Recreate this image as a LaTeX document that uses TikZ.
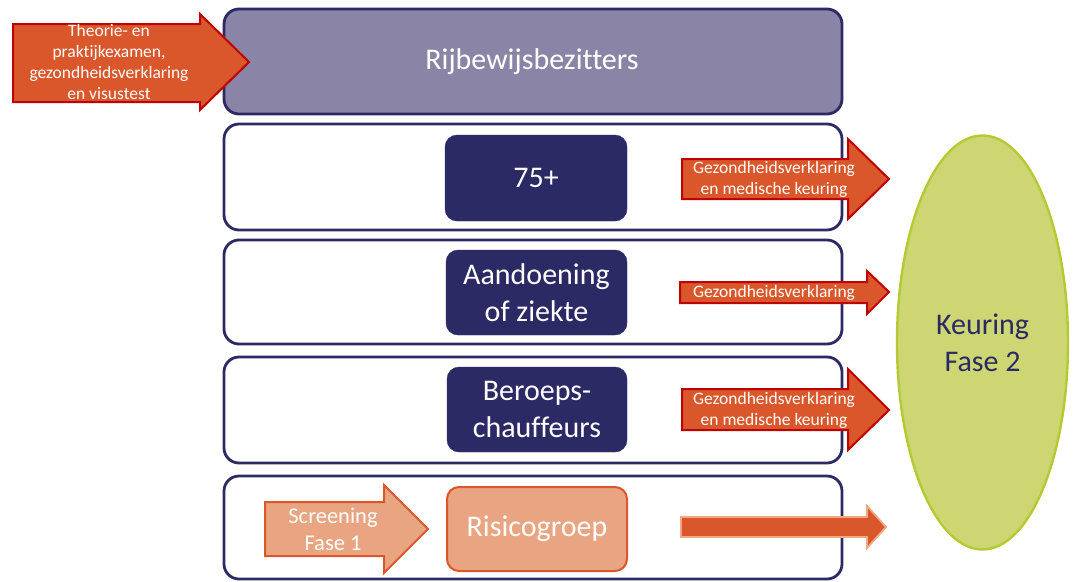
\documentclass[tikz,border=0pt]{standalone}
\usepackage{fontspec}
\setmainfont[Ligatures=NoCommon]{Carlito}
\usetikzlibrary{shapes.geometric}
\definecolor{navy}{HTML}{2B2A64}
\definecolor{topfill}{HTML}{8A85A6}
\definecolor{arrfill}{HTML}{D9572B}
\definecolor{arrline}{HTML}{C00000}
\definecolor{salmon}{HTML}{E9A581}
\definecolor{lightline}{HTML}{F2A883}
\definecolor{elfill}{HTML}{CDD672}
\definecolor{elline}{HTML}{B5C932}
\tikzset{
  rowbox/.style={draw=navy,line width=2.8pt,rounded corners=15pt,fill=white},
  innerbox/.style={fill=navy,draw=navy,rounded corners=12pt,text=white,font=\fontsize{30}{37}\selectfont,align=center},
  redarrow/.style={fill=arrfill,draw=arrline,line width=2pt,line join=miter},
  arrtext/.style={text=white,font=\fontsize{17.5}{21}\selectfont,align=center,inner sep=0pt},
}
\begin{document}
\begin{tikzpicture}[x=1pt,y=-1pt]
\useasboundingbox (0,0) rectangle (1076,581);
% top box
\draw[draw=navy,line width=2.8pt,rounded corners=15pt,fill=topfill] (224,9) rectangle (842,114);
\node[text=white,font=\fontsize{30}{36}\selectfont] (top) at (532,62) {Rijbewijsbezitters};
% rows
\draw[rowbox] (224,124) rectangle (842,230);
\draw[rowbox] (224,240) rectangle (842,344);
\draw[rowbox] (224,357) rectangle (842,463);
\draw[rowbox] (224,476) rectangle (842,579);
% inner boxes
\node[innerbox,minimum width=182pt,minimum height=86pt] (b1) at (536,178) {75+};
\node[innerbox,minimum width=181pt,minimum height=85pt] (b2) at (536.5,292.5) {Aandoening\\of ziekte};
\node[innerbox,minimum width=180pt,minimum height=85pt] (b3) at (537,409.5) {Beroeps-\\chauffeurs};
\node[innerbox,fill=salmon,draw=arrfill,line width=2pt,minimum width=180pt,minimum height=84pt] (b4) at (537,529) {Risicogroep};
% top-left arrow
\draw[redarrow] (13,24) -- (200,24) -- (200,14) -- (249,62) -- (200,110) -- (200,102) -- (13,102) -- cycle;
\node[arrtext] (t0) at (109,62) {Theorie- en\\praktijkexamen,\\gezondheidsverklaring\\en visustest};
% right arrows
\draw[redarrow] (682,159) -- (848,159) -- (848,139) -- (889,179) -- (848,219) -- (848,199) -- (682,199) -- cycle;
\node[arrtext] (t1) at (774,179) {Gezondheidsverklaring\\en medische keuring};
\draw[redarrow] (680,282) -- (867,282) -- (867,271) -- (889,292) -- (867,314) -- (867,303) -- (680,303) -- cycle;
\node[arrtext] (t2) at (774,292.5) {Gezondheidsverklaring};
\draw[redarrow] (682,389) -- (848,389) -- (848,369) -- (889,410) -- (848,450) -- (848,430) -- (682,430) -- cycle;
\node[arrtext] (t3) at (774,410) {Gezondheidsverklaring\\en medische keuring};
% bottom arrow
\draw[fill=arrfill,draw=lightline,line width=1.8pt] (681,517) -- (867,517) -- (867,506) -- (886,527) -- (867,548) -- (867,537) -- (681,537) -- cycle;
% screening arrow
\draw[fill=salmon,draw=arrfill,line width=2pt] (265,502) -- (384,502) -- (384,485) -- (428,529) -- (384,573) -- (384,556) -- (265,556) -- cycle;
\node[text=white,font=\fontsize{22.5}{27}\selectfont,align=center,inner sep=0pt] (t4) at (333,529) {Screening\\Fase 1};
% ellipse
\node[ellipse,fill=elfill,draw=elline,line width=2.4pt,minimum width=171pt,minimum height=414pt,text=navy,font=\fontsize{30}{37}\selectfont,align=center] (k) at (982.5,342.5) {Keuring\\Fase 2};
\end{tikzpicture}
\end{document}
